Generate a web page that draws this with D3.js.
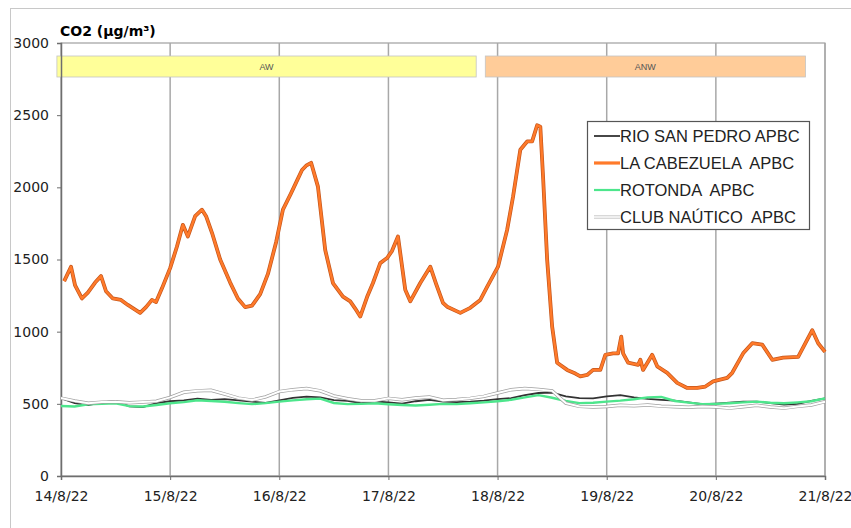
<!DOCTYPE html>
<html>
<head>
<meta charset="utf-8">
<script src="https://cdnjs.cloudflare.com/ajax/libs/d3/7.8.5/d3.min.js"></script>
<style>
  body { margin: 0; background: #fff; }
  svg { display: block; }
</style>
</head>
<body>
<svg width="851" height="528"></svg>
<script>
// day labels on the x axis, y ticks
let dayLabels = ["14/8/22", "15/8/22", "16/8/22", "17/8/22", "18/8/22", "19/8/22", "20/8/22", "21/8/22"];
let yTicks = [0, 500, 1000, 1500, 2000, 2500, 3000];

// wind period bands (hours from 14/8 00:00)
let bandLabels = ["AW", "ANW"];
let bandStart = [-0.9, 93.3];
let bandEnd = [91.3, 163.7];

let seriesNames = ["RIO SAN PEDRO APBC", "LA CABEZUELA  APBC", "ROTONDA  APBC", "CLUB NAÚTICO  APBC"];

// LA CABEZUELA: hours and values
let cabHours = [0.7, 2.2, 3.1, 4.6, 5.9, 7.5, 8.8, 9.9, 11.4, 13.2, 14.7, 17.4, 18.7, 20.0, 20.9, 22.2,
  24.0, 25.5, 26.8, 27.9, 29.5, 31.0, 31.9, 33.2, 35.0, 37.2, 38.9, 40.5, 42.0, 43.8, 45.5, 47.3,
  48.8, 50.6, 52.1, 53.0, 53.9, 55.0, 56.5, 58.1, 59.8, 62.0, 63.6, 64.7, 65.8, 67.3, 68.6, 70.2,
  71.7, 72.8, 74.1, 75.7, 76.8, 79.0, 81.2, 82.5, 84.0, 84.9, 87.8, 90.0, 92.2, 93.7, 96.1, 98.1,
  99.4, 101.0, 102.5, 103.6, 104.7, 105.4, 106.0, 106.9, 108.0, 109.1, 111.3, 113.1, 114.2, 115.7,
  117.0, 118.6, 119.7, 121.4, 122.5, 123.2, 123.6, 124.7, 126.9, 127.4, 128.0, 130.0, 131.1, 133.3,
  135.5, 137.7, 139.9, 141.7, 143.4, 146.5, 147.6, 150.0, 152.0, 154.2, 156.4, 158.8, 162.1, 165.2,
  166.5, 168.0];
let cabValues = [1350, 1450, 1320, 1230, 1270, 1340, 1385, 1280, 1230, 1220, 1185, 1130, 1170, 1220, 1205, 1300,
  1440, 1590, 1740, 1660, 1800, 1845, 1800, 1685, 1500, 1340, 1230, 1170, 1180, 1260, 1400, 1620,
  1845, 1960, 2060, 2120, 2150, 2170, 2005, 1566, 1337, 1243, 1210, 1160, 1105, 1240, 1337, 1475,
  1510, 1560, 1660, 1290, 1210, 1337, 1450, 1330, 1200, 1173, 1130, 1165, 1220, 1310, 1450, 1705,
  1935, 2260, 2318, 2318, 2430, 2420, 2075, 1500, 1035, 785, 735, 710, 690, 700,
  735, 735, 840, 850, 850, 965, 850, 785, 770, 805, 735, 840, 760, 715,
  645, 610, 610, 620, 655, 680, 715, 850, 920, 910, 805, 820, 825, 1010,
  920, 860];

// the three low stations, every 3 hours
let lowHours = [0, 3, 6, 9, 12, 15, 18, 21, 24, 27, 30, 33, 36, 39, 42, 45, 48, 51, 54, 57,
  60, 63, 66, 69, 72, 75, 78, 81, 84, 87, 90, 93, 96, 99, 102, 105, 108, 111, 114, 117,
  120, 123, 126, 129, 132, 135, 138, 141, 144, 147, 150, 153, 156, 159, 162, 165, 168];
let rioValues = [540, 505, 492, 510, 520, 482, 478, 505, 518, 524, 536, 528, 532, 524, 515, 506, 524, 542, 550, 545,
  526, 520, 505, 516, 510, 502, 518, 528, 516, 512, 515, 522, 532, 540, 560, 575, 578, 552, 540, 538,
  552, 560, 545, 535, 528, 522, 510, 497, 502, 508, 515, 515, 505, 495, 500, 520, 538];
let rotValues = [485, 482, 497, 500, 504, 484, 482, 492, 504, 512, 525, 520, 514, 505, 498, 505, 515, 524, 532, 536,
  506, 498, 500, 504, 497, 492, 488, 494, 500, 498, 504, 510, 518, 528, 545, 560, 542, 520, 505, 508,
  515, 522, 532, 545, 548, 520, 508, 498, 500, 504, 510, 515, 508, 504, 510, 518, 538];
let clubValues = [540, 520, 504, 512, 515, 508, 512, 518, 545, 580, 590, 594, 568, 540, 526, 548, 585, 598, 606, 590,
  555, 535, 522, 522, 538, 528, 540, 548, 525, 530, 538, 552, 575, 598, 606, 600, 590, 505, 482, 478,
  482, 490, 486, 492, 484, 480, 476, 482, 478, 470, 480, 490, 478, 470, 482, 492, 515];

let svg = d3.select("svg");
let start = new Date(2022, 7, 14);
function toDate(h) {
  return new Date(start.getTime() + h * 3600000);
}
let dayDates = dayLabels.map(function (d, i) {
  return toDate(i * 24);
});

let xScale = d3.scaleTime().domain([dayDates[0], dayDates[7]]).range([61, 825]);
let yScale = d3.scaleLinear().domain([0, 3000]).range([476, 43]);

// outer frame
svg.append("rect")
  .attr("x", 10.5).attr("y", 8.5)
  .attr("width", 860).attr("height", 540)
  .attr("fill", "none").attr("stroke", "#c8c8c8");

// title
svg.append("text")
  .attr("x", 60).attr("y", 36)
  .style("font-family", "DejaVu Sans")
  .style("font-size", "14px")
  .style("font-weight", "bold")
  .text("CO2 (µg/m³)");

// plot border and day grid lines
svg.append("rect")
  .attr("x", 61).attr("y", 43)
  .attr("width", 764).attr("height", 433)
  .attr("fill", "none").attr("stroke", "#8c8c8c");

svg.append("g")
  .selectAll("line")
  .data(dayDates.slice(1))
  .enter()
  .append("line")
  .attr("x1", function (d) { return xScale(d); })
  .attr("x2", function (d) { return xScale(d); })
  .attr("y1", yScale(3000))
  .attr("y2", yScale(0))
  .attr("stroke", "#a8a8a8")
  .attr("stroke-width", 1.5);

// bands
let bandColors = ["#ffff99", "#ffcc99"];
let bands = svg.append("g");
bands.selectAll("rect")
  .data(bandLabels)
  .enter()
  .append("rect")
  .attr("x", function (d, i) { return xScale(toDate(bandStart[i])); })
  .attr("y", 56)
  .attr("width", function (d, i) { return xScale(toDate(bandEnd[i])) - xScale(toDate(bandStart[i])); })
  .attr("height", 21)
  .attr("fill", function (d, i) { return bandColors[i]; })
  .attr("stroke", "#c4c4c4")
  .attr("stroke-width", 0.8);
bands.selectAll("text")
  .data(bandLabels)
  .enter()
  .append("text")
  .attr("x", function (d, i) { return (xScale(toDate(bandStart[i])) + xScale(toDate(bandEnd[i]))) / 2; })
  .attr("y", 70)
  .attr("text-anchor", "middle")
  .style("font-family", "Liberation Sans")
  .style("font-size", "9px")
  .attr("fill", "#555")
  .text(function (d) { return d; });

// axes
let xAxis = svg.append("g")
  .attr("transform", "translate(0, 476)")
  .call(d3.axisBottom(xScale).tickValues(dayDates).tickSize(4).tickPadding(11)
    .tickFormat(function (d, i) { return dayLabels[i]; }));
let yAxis = svg.append("g")
  .attr("transform", "translate(61, 0)")
  .call(d3.axisLeft(yScale).tickValues(yTicks).tickSize(4).tickPadding(8)
    .tickFormat(d3.format("d")));
[xAxis, yAxis].forEach(function (a) {
  a.select(".domain").attr("stroke", "#6e6e6e").attr("stroke-width", 1.5);
  a.selectAll(".tick line").attr("stroke", "#6e6e6e");
  a.selectAll("text")
    .style("font-family", "DejaVu Sans")
    .style("font-size", "14px")
    .attr("fill", "#222");
});

// lines
function makeLine(hours) {
  return d3.line()
    .x(function (d, i) { return xScale(toDate(hours[i])); })
    .y(function (d) { return yScale(d); });
}
let lowLine = makeLine(lowHours);
let cabLine = makeLine(cabHours);

svg.append("path").attr("d", lowLine(rioValues))
  .attr("fill", "none").attr("stroke", "#333").attr("stroke-width", 1.8);

svg.append("path").attr("d", cabLine(cabValues))
  .attr("fill", "none").attr("stroke", "#c4561c").attr("stroke-width", 3.8)
  .attr("stroke-linejoin", "round");
svg.append("path").attr("d", cabLine(cabValues))
  .attr("fill", "none").attr("stroke", "#ff7a2a").attr("stroke-width", 2.4)
  .attr("stroke-linejoin", "round");

svg.append("path").attr("d", lowLine(rotValues))
  .attr("fill", "none").attr("stroke", "#4de68c").attr("stroke-width", 2.4);

svg.append("path").attr("d", lowLine(clubValues))
  .attr("fill", "none").attr("stroke", "#a0a0a0").attr("stroke-width", 3.4);
svg.append("path").attr("d", lowLine(clubValues))
  .attr("fill", "none").attr("stroke", "#fff").attr("stroke-width", 2);

// legend
let legend = svg.append("g");
legend.append("rect")
  .attr("x", 587.5).attr("y", 121.5)
  .attr("width", 222).attr("height", 108)
  .attr("fill", "#fff").attr("stroke", "#555").attr("stroke-width", 1.2);
let legendStroke = ["#333", "#ff7a2a", "#4de68c", "#fff"];
let legendWidth = [1.8, 3.2, 2.2, 1.6];
let rows = legend.selectAll("g.row")
  .data(seriesNames)
  .enter()
  .append("g")
  .attr("class", "row")
  .attr("transform", function (d, i) { return "translate(0," + (136 + i * 27) + ")"; });
rows.filter(function (d, i) { return i == 3; })
  .append("line")
  .attr("x1", 594).attr("x2", 620)
  .attr("stroke", "#b0b0b0").attr("stroke-width", 3);
rows.append("line")
  .attr("x1", 594).attr("x2", 620)
  .attr("stroke", function (d, i) { return legendStroke[i]; })
  .attr("stroke-width", function (d, i) { return legendWidth[i]; });
rows.append("text")
  .attr("x", 620).attr("y", 6)
  .style("font-family", "Liberation Sans")
  .style("font-size", "16.5px")
  .style("white-space", "pre")
  .attr("fill", "#222")
  .text(function (d) { return d; });
</script>
</body>
</html>
